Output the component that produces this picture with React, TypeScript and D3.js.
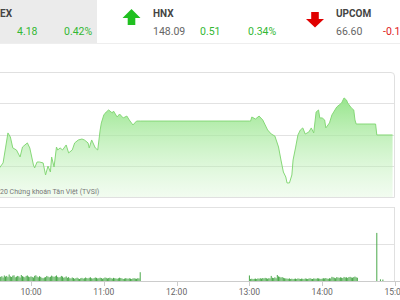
import React from "react";
import * as d3 from "d3";

// ---- Header quotes ----
const indexNames = ["EX", "HNX", "UPCOM"];
const indexValues = ["", "148.09", "66.60"];
const indexChanges = ["4.18", "0.51", "-0.1"];
const indexPercents = ["0.42%", "0.34%", ""];

// ---- Intraday index line ----
const priceTimes = [
  "09:34", "09:37", "09:39", "09:41", "09:43", "09:45", "09:48", "09:51", "09:53", "09:57",
  "09:59", "10:02", "10:03", "10:05", "10:07", "10:10", "10:12", "10:14", "10:16", "10:17",
  "10:19", "10:21", "10:22", "10:24", "10:26", "10:29", "10:31", "10:34", "10:36", "10:39",
  "10:42", "10:44", "10:47", "10:48", "10:50", "10:53", "10:55", "10:56", "10:57", "10:58",
  "11:00", "11:02", "11:04", "11:07", "11:08", "11:11", "11:13", "11:16", "11:19", "11:21",
  "11:24", "11:27", "11:30", "13:00", "13:01", "13:02", "13:05", "13:08", "13:11", "13:15",
  "13:18", "13:21", "13:24", "13:26", "13:28", "13:30", "13:31", "13:33", "13:35", "13:36",
  "13:38", "13:40", "13:42", "13:44", "13:46", "13:49", "13:51", "13:53", "13:55", "13:57",
  "13:58", "14:00", "14:02", "14:03", "14:06", "14:08", "14:12", "14:14", "14:16", "14:18",
  "14:20", "14:21", "14:24", "14:26", "14:27", "14:28", "14:44", "14:45", "14:58",
];
const priceValues = [
  989.86, 990.18, 991.14, 992.1, 991.84, 991.14, 991.01, 990.56, 991.2, 991.46,
  991.14, 990.05, 989.86, 990.24, 990.24, 990.18, 989.41, 989.98, 989.6, 990.56,
  989.92, 991.2, 991.01, 991.14, 991.01, 991.33, 990.82, 991.01, 991.46, 991.65,
  991.71, 991.65, 991.46, 991.14, 991.65, 991.14, 991.01, 991.65, 992.29, 992.74,
  993.25, 993.44, 993.57, 993.38, 993.5, 993.12, 993.31, 993.06, 993.18, 992.93,
  992.61, 992.86, 992.86, 992.86, 992.86, 993.12, 992.99, 993.18, 992.93, 992.29,
  992.03, 991.9, 991.2, 990.37, 989.6, 989.28, 988.9, 988.9, 989.41, 990.37,
  991.14, 991.97, 992.29, 992.42, 992.03, 992.16, 992.42, 992.1, 993.44, 993.57,
  993.06, 993.06, 992.93, 992.42, 992.74, 993.25, 993.76, 993.89, 994.02, 994.34,
  994.21, 994.02, 993.7, 993.57, 992.93, 992.67, 992.67, 991.97, 991.97,
];
const priceGrid = [988, 990, 992, 994, 996];

// ---- Volume (one bar per minute from the session start) ----
const morningStart = "09:35";
const morningVolumes = [
  45, 52, 38, 60, 48, 55, 42, 70, 50, 44, 58, 62, 40, 47, 55, 50, 38, 65, 52, 46, 40, 55, 60, 48, 42,
  50, 44, 38, 56, 62, 48, 40, 52, 45, 35, 30, 38, 42, 55, 48, 40, 46, 58, 50, 44, 52, 60, 45, 38, 42, 55, 48, 36, 40, 50,
  35, 42, 30, 28, 38, 32, 25, 30, 36, 28, 22, 30, 34, 26, 30, 38, 32, 28, 35, 40, 30, 26, 32, 38, 34, 28, 30, 36, 32, 25,
  30, 38, 34, 28, 32, 36, 30, 26, 34, 30, 28, 24, 30, 36, 32, 28, 22, 26, 30, 28, 24, 30, 26, 22, 28, 30, 26, 24, 30, 28,
  95,
];
const afternoonStart = "13:00";
const afternoonVolumes = [
  60,
  22, 25, 20, 24, 26, 22, 28, 25, 30, 26, 32, 28, 34, 30, 25,
  30, 28, 55, 35, 32, 40, 30, 65, 50, 45, 38, 42, 35, 30, 28,
  26, 24, 28, 22, 25, 20, 24, 26, 22, 28, 25, 22, 26, 24, 20, 28, 25, 22, 26, 30, 24, 22, 28, 26, 24, 30, 28, 25, 22,
  26, 30, 28, 32, 26, 24, 30, 28, 45, 40, 35, 30, 42, 38, 34, 40, 36, 32, 44, 38, 40, 34, 42, 45, 38, 36, 42, 48, 40, 35,
];
const closeTimes = ["14:45", "14:48", "14:50"];
const closeVolumes = [520, 18, 16];
const volumeGrid = [400, 800];

const hourTicks = ["10:00", "11:00", "12:00", "13:00", "14:00", "15:00"];

const toMin = (s: string) => {
  const [h, m] = s.split(":").map(Number);
  return h * 60 + m;
};

export default function App() {
  const W = 400;
  const H = 300;
  const x = d3.scaleLinear().domain([toMin("10:00"), toMin("15:00")]).range([31, 395]);
  const yP = d3.scaleLinear().domain([988, 996]).range([197, 72]);
  const yV = d3.scaleLinear().domain([0, 800]).range([281, 207]);

  const pts = priceTimes.map((t, i) => [toMin(t), priceValues[i]] as [number, number]);
  const area = d3
    .area<[number, number]>()
    .x((d) => x(d[0]))
    .y0(197)
    .y1((d) => yP(d[1]));
  const line = d3
    .line<[number, number]>()
    .x((d) => x(d[0]))
    .y((d) => yP(d[1]));

  const bars: { t: number; v: number }[] = [];
  morningVolumes.forEach((v, i) => bars.push({ t: toMin(morningStart) + i, v }));
  afternoonVolumes.forEach((v, i) => bars.push({ t: toMin(afternoonStart) + i, v }));
  closeTimes.forEach((t, i) => bars.push({ t: toMin(t), v: closeVolumes[i] }));

  const font = "Roboto, 'Noto Sans', sans-serif";
  const green = "#33b833";
  const headerX = [0, 153, 336];
  const changeX = [17, 200, 383];
  const pctX = [64, 248, 431];

  return (
    <div style={{ position: "fixed", left: 0, top: 0, width: W, height: H, background: "#fff" }}>
      <svg width={W} height={H} style={{ display: "block" }} fontFamily={font}>
        <defs>
          <linearGradient id="pg" gradientUnits="userSpaceOnUse" x1={0} y1={yP(994.5)} x2={0} y2={197}>
            <stop offset="0" stopColor="#8fe383" stopOpacity={0.95} />
            <stop offset="1" stopColor="#c9f3c3" stopOpacity={0.25} />
          </linearGradient>
          <clipPath id="pc">
            <rect x={0} y={72} width={394} height={125} />
          </clipPath>
        </defs>

        {/* header */}
        <rect x={0} y={0} width={97} height={43} fill="#ebebeb" />
        <line x1={0} x2={W} y1={43.5} y2={43.5} stroke="#eeeeee" />
        {indexNames.map((n, i) => (
          <text key={n} x={headerX[i]} y={17} fontSize={10} fontWeight="bold" fill="#444">
            {n}
          </text>
        ))}
        {indexValues.map((v, i) =>
          v ? (
            <text key={"v" + i} x={headerX[i]} y={35} fontSize={10.5} fill="#666">
              {v}
            </text>
          ) : null
        )}
        {indexChanges.map((v, i) => (
          <text key={"c" + i} x={changeX[i]} y={35} fontSize={10.5} fill={v.startsWith("-") ? "#e02020" : green}>
            {v}
          </text>
        ))}
        {indexPercents.map((v, i) =>
          v ? (
            <text key={"p" + i} x={pctX[i]} y={35} fontSize={10.5} fill={green}>
              {v}
            </text>
          ) : null
        )}
        {/* arrows */}
        <path d="M131.5,9 L140.5,18 L135.3,18 L135.3,25 L127.7,25 L127.7,18 L122.5,18 Z" fill="#20c020" />
        <path d="M315,27.5 L324,19 L318.8,19 L318.8,12 L311.2,12 L311.2,19 L306,19 Z" fill="#e00000" />

        {/* price panel */}
        {priceGrid.slice(1, 4).map((g) => (
          <line key={g} x1={0} x2={394} y1={Math.round(yP(g)) + 0.5} y2={Math.round(yP(g)) + 0.5} stroke="#e2e2e2" />
        ))}
        <g clipPath="url(#pc)">
          <path d={area(pts) || ""} fill="url(#pg)" />
          <path d={line(pts) || ""} fill="none" stroke="#86d878" strokeWidth={1} />
        </g>
        <path d="M-2,72.5 L391,72.5 Q394.5,72.5 394.5,76 L394.5,197.5 L-2,197.5" fill="none" stroke="#e0e0e0" />
        <text x={0} y={194} fontSize={7} fill="#777">
          20 Chứng khoán Tân Việt (TVSI)
        </text>

        {/* volume panel */}
        {volumeGrid.map((g) => (
          <line key={g} x1={0} x2={394} y1={Math.round(yV(g)) + 0.5} y2={Math.round(yV(g)) + 0.5} stroke="#e2e2e2" />
        ))}
        <line x1={394.5} x2={394.5} y1={207} y2={281} stroke="#e0e0e0" />
        {bars.map((b, i) => (
          <rect key={i} x={x(b.t) - 0.5} y={yV(b.v)} width={1} height={281 - yV(b.v)} fill="#4aa84a" />
        ))}
        <line x1={0} x2={W} y1={281.5} y2={281.5} stroke="#cccccc" />
        {hourTicks.map((t) => (
          <g key={t}>
            <line x1={Math.round(x(toMin(t))) + 0.5} x2={Math.round(x(toMin(t))) + 0.5} y1={281} y2={286} stroke="#cccccc" />
            <text x={x(toMin(t))} y={295} fontSize={8.5} fill="#666" textAnchor="middle">
              {t}
            </text>
          </g>
        ))}
      </svg>
    </div>
  );
}
